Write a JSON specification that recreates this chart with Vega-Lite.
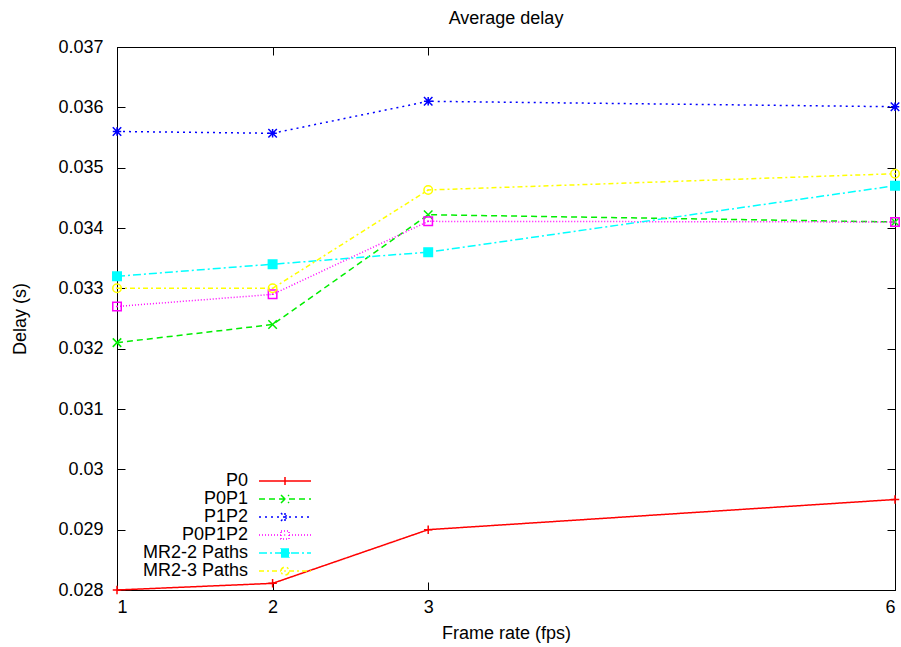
{
  "$schema": "https://vega.github.io/schema/vega-lite/v6.json",
  "width": 778,
  "height": 543,
  "autosize": {"type": "none"},
  "padding": {"left": 117, "top": 47, "right": 6, "bottom": 57},
  "background": "white",
  "title": {"text": "Average delay", "fontSize": 18, "fontWeight": "normal", "font": "Liberation Sans", "frame": "group", "anchor": "middle", "baseline": "alphabetic", "offset": -4, "color": "black"},
  "config": {
    "view": {"stroke": "black", "strokeWidth": 1},
    "font": "Liberation Sans",
    "axis": {"grid": false, "domainColor": "black", "tickColor": "black", "labelColor": "black", "titleColor": "black", "labelFont": "Liberation Sans", "titleFont": "Liberation Sans", "labelFontSize": 18, "titleFontSize": 18, "titleFontWeight": "normal", "tickSize": -8, "tickWidth": 1, "domainWidth": 1}
  },
  "data": {"values": [
    {"fps": 1, "delay": 0.028, "series": "P0"},
    {"fps": 2, "delay": 0.02811, "series": "P0"},
    {"fps": 3, "delay": 0.029, "series": "P0"},
    {"fps": 6, "delay": 0.0295, "series": "P0"},
    {"fps": 1, "delay": 0.0321, "series": "P0P1"},
    {"fps": 2, "delay": 0.0324, "series": "P0P1"},
    {"fps": 3, "delay": 0.03422, "series": "P0P1"},
    {"fps": 6, "delay": 0.0341, "series": "P0P1"},
    {"fps": 1, "delay": 0.0356, "series": "P1P2"},
    {"fps": 2, "delay": 0.03557, "series": "P1P2"},
    {"fps": 3, "delay": 0.0361, "series": "P1P2"},
    {"fps": 6, "delay": 0.03601, "series": "P1P2"},
    {"fps": 1, "delay": 0.0327, "series": "P0P1P2"},
    {"fps": 2, "delay": 0.0329, "series": "P0P1P2"},
    {"fps": 3, "delay": 0.03411, "series": "P0P1P2"},
    {"fps": 6, "delay": 0.0341, "series": "P0P1P2"},
    {"fps": 1, "delay": 0.0332, "series": "MR2-2 Paths"},
    {"fps": 2, "delay": 0.0334, "series": "MR2-2 Paths"},
    {"fps": 3, "delay": 0.0336, "series": "MR2-2 Paths"},
    {"fps": 6, "delay": 0.0347, "series": "MR2-2 Paths"},
    {"fps": 1, "delay": 0.033, "series": "MR2-3 Paths"},
    {"fps": 2, "delay": 0.033, "series": "MR2-3 Paths"},
    {"fps": 3, "delay": 0.03463, "series": "MR2-3 Paths"},
    {"fps": 6, "delay": 0.0349, "series": "MR2-3 Paths"}
  ]},
  "layer": [
    {
      "mark": {"type": "line", "strokeWidth": 1.5},
      "encoding": {
        "x": {"field": "fps", "type": "quantitative", "scale": {"domain": [1, 6], "nice": false, "zero": false},
              "axis": {"orient": "bottom", "values": [1, 2, 3, 6], "title": "Frame rate (fps)", "labelPadding": 16, "titlePadding": 8}},
        "y": {"field": "delay", "type": "quantitative", "scale": {"domain": [0.028, 0.037], "nice": false, "zero": false},
              "axis": {"orient": "left", "values": [0.028, 0.029, 0.03, 0.031, 0.032, 0.033, 0.034, 0.035, 0.036, 0.037], "format": ".3~f", "title": "Delay (s)", "labelPadding": 22, "titlePadding": 28}},
        "color": {"field": "series", "type": "nominal",
                  "scale": {"domain": ["P0", "P0P1", "P1P2", "P0P1P2", "MR2-2 Paths", "MR2-3 Paths"], "range": ["#ff0000", "#00ee00", "#0000ff", "#ff00ff", "#00ffff", "#ffff00"]},
                  "legend": {"title": null, "orient": "none", "legendX": 168, "legendY": 434, "direction": "vertical", "padding": 0, "rowPadding": 0, "symbolSize": 2704, "symbolStrokeWidth": 1.5, "labelFontSize": 18, "labelFont": "Liberation Sans", "labelColor": "black", "labelAlign": "right", "labelBaseline": "middle", "labelLimit": 300,
                    "encode": {
                      "symbols": {"update": {
                        "x": {"value": 0}, "y": {"value": 0},
                        "shape": {"signal": "datum.value === 'P0' ? 'M-1,0H1M0,-0.154V0.154' : datum.value === 'P0P1' ? 'M-1,0H1M-0.154,-0.154L0.154,0.154M-0.154,0.154L0.154,-0.154' : datum.value === 'P1P2' ? 'M-1,0H1M-0.154,-0.154L0.154,0.154M-0.154,0.154L0.154,-0.154M0,-0.154V0.154' : datum.value === 'P0P1P2' ? 'M-1,0H-0.154M0.154,0H1M-0.154,-0.154H0.154V0.154H-0.154ZM-0.03,0H0.03' : datum.value === 'MR2-2 Paths' ? 'M-1,0H1M-0.154,-0.154H0.154V0.154H-0.154Z' : 'M-1,0H-0.154M0.154,0H1M-0.154,0A0.154,0.154,0,1,1,0.154,0A0.154,0.154,0,1,1,-0.154,0ZM-0.03,0H0.03'"},
                        "fill": {"signal": "datum.value === 'MR2-2 Paths' ? '#00ffff' : 'transparent'"}
                      }},
                      "labels": {"update": {"x": {"value": -37}, "y": {"value": 0}}}
                    }}},
        "strokeDash": {"field": "series", "type": "nominal",
                  "scale": {"domain": ["P0", "P0P1", "P1P2", "P0P1P2", "MR2-2 Paths", "MR2-3 Paths"], "range": [[1, 0], [6, 4], [2, 4], [1, 2], [8, 3, 2, 3], [5, 3, 2, 3]]},
                  "legend": {"title": null, "orient": "none", "legendX": 168, "legendY": 434, "direction": "vertical", "padding": 0, "rowPadding": 0, "symbolSize": 2704, "symbolStrokeWidth": 1.5, "labelFontSize": 18, "labelFont": "Liberation Sans", "labelColor": "black", "labelAlign": "right", "labelBaseline": "middle", "labelLimit": 300}}
      }
    },
    {
      "transform": [{"filter": {"field": "series", "equal": "P0"}}],
      "mark": {"type": "point", "shape": "M-1,0H1M0,-1V1", "size": 72, "strokeWidth": 1.5, "filled": false, "color": "#ff0000", "opacity": 1},
      "encoding": {"x": {"field": "fps", "type": "quantitative", "axis": null}, "y": {"field": "delay", "type": "quantitative", "axis": null}}
    },
    {
      "transform": [{"filter": {"field": "series", "equal": "P0P1"}}],
      "mark": {"type": "point", "shape": "M-1,-1L1,1M-1,1L1,-1", "size": 72, "strokeWidth": 1.5, "filled": false, "color": "#00ee00", "opacity": 1},
      "encoding": {"x": {"field": "fps", "type": "quantitative", "axis": null}, "y": {"field": "delay", "type": "quantitative", "axis": null}}
    },
    {
      "transform": [{"filter": {"field": "series", "equal": "P1P2"}}],
      "mark": {"type": "point", "shape": "M-1,-1L1,1M-1,1L1,-1M-1,0H1M0,-1V1", "size": 72, "strokeWidth": 1.5, "filled": false, "color": "#0000ff", "opacity": 1},
      "encoding": {"x": {"field": "fps", "type": "quantitative", "axis": null}, "y": {"field": "delay", "type": "quantitative", "axis": null}}
    },
    {
      "transform": [{"filter": {"field": "series", "equal": "P0P1P2"}}],
      "mark": {"type": "point", "shape": "M-1,-1H1V1H-1ZM-0.2,0H0.2", "size": 72, "strokeWidth": 1.5, "filled": false, "color": "#ff00ff", "opacity": 1},
      "encoding": {"x": {"field": "fps", "type": "quantitative", "axis": null}, "y": {"field": "delay", "type": "quantitative", "axis": null}}
    },
    {
      "transform": [{"filter": {"field": "series", "equal": "MR2-2 Paths"}}],
      "mark": {"type": "point", "shape": "M-1,-1H1V1H-1Z", "size": 72, "strokeWidth": 1.5, "filled": true, "color": "#00ffff", "stroke": "#00ffff", "opacity": 1},
      "encoding": {"x": {"field": "fps", "type": "quantitative", "axis": null}, "y": {"field": "delay", "type": "quantitative", "axis": null}}
    },
    {
      "transform": [{"filter": {"field": "series", "equal": "MR2-3 Paths"}}],
      "mark": {"type": "point", "shape": "M-1,0A1,1,0,1,1,1,0A1,1,0,1,1,-1,0ZM-0.2,0H0.2", "size": 72, "strokeWidth": 1.5, "filled": false, "color": "#ffff00", "opacity": 1},
      "encoding": {"x": {"field": "fps", "type": "quantitative", "axis": null}, "y": {"field": "delay", "type": "quantitative", "axis": null}}
    },
    {
      "mark": {"type": "point", "opacity": 0},
      "encoding": {
        "x": {"field": "fps", "type": "quantitative", "axis": {"orient": "top", "values": [1, 2, 3, 6], "labels": false, "title": null}},
        "y": {"field": "delay", "type": "quantitative", "axis": {"orient": "right", "values": [0.028, 0.029, 0.03, 0.031, 0.032, 0.033, 0.034, 0.035, 0.036, 0.037], "labels": false, "title": null}}
      }
    }
  ],
  "resolve": {"axis": {"x": "independent", "y": "independent"}}
}
